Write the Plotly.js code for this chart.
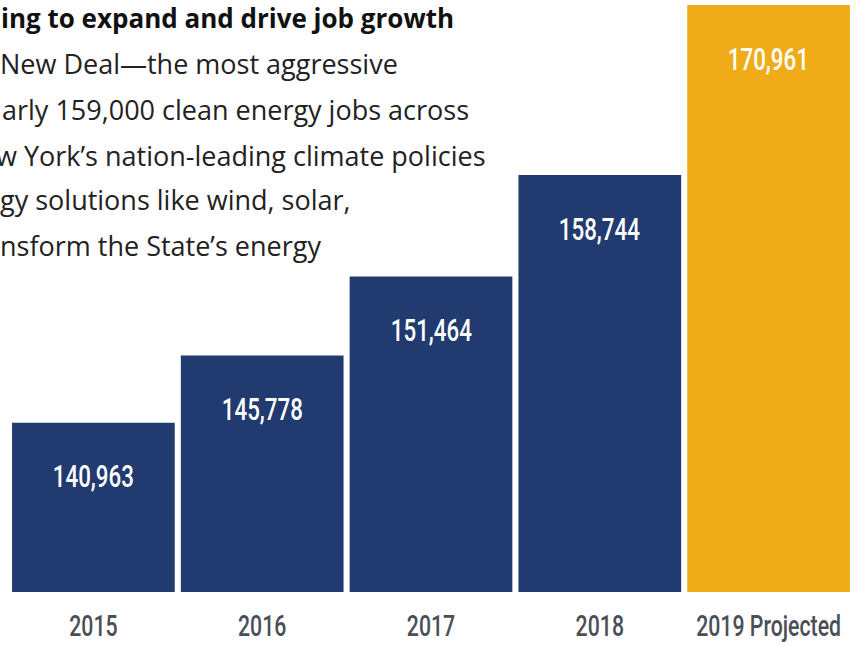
<!DOCTYPE html>
<html>
<head>
<meta charset="utf-8">
<script src="https://cdn.plot.ly/plotly-3.0.1.min.js"></script>
<style>
html,body{margin:0;padding:0;background:#fff;}
#chart{width:857px;height:645px;}
.xtick { transform-box: fill-box; transform-origin: center; transform: scaleX(0.71); }
.annotation.cond { transform-box: fill-box; transform-origin: center; transform: scaleX(0.72); }
</style>
</head>
<body>
<div id="chart"></div>
<script>
// Data
const years = ["2015", "2016", "2017", "2018", "2019 Projected"];
const jobs = [140963, 145778, 151464, 158744, 170961];
const barColors = ["#213a70", "#213a70", "#213a70", "#213a70", "#efac18"];
const headline = "ing to expand and drive job growth";
const bodyLines = [
  "New Deal\u2014the most aggressive",
  "arly 159,000 clean energy jobs across",
  "w York\u2019s nation-leading climate policies",
  "gy solutions like wind, solar,",
  "nsform the State\u2019s energy"
];

const W = 857, H = 645;
const M = {l: 9, r: 4, t: 5, b: 53};
const plotH = H - M.t - M.b;
const pyToPaper = py => (H - M.b - py) / plotH;
const idx = years.map((_, i) => i);

const condensed = "Roboto, Liberation Sans, sans-serif";
const bodyFont = "Open Sans, Lato, sans-serif";

const annotations = [];
// value labels inside bars
idx.forEach(i => {
  annotations.push({
    x: i, y: jobs[i], xref: "x", yref: "y",
    text: jobs[i].toLocaleString("en-US"),
    showarrow: false, yanchor: "middle", yshift: -54,
    font: {family: condensed, size: 31, color: "#ffffff", weight: 500}
  });
});
// paragraph text fragment
annotations.push({
  xref: "paper", yref: "paper", x: 0, xshift: -10, xanchor: "left",
  y: pyToPaper(18), yanchor: "middle",
  text: "<b>" + headline + "</b>", showarrow: false,
  font: {family: bodyFont, size: 26, color: "#111111"}
});
const lineY = [64, 109, 155, 199, 245];
const lineShift = [-11, -9, -15, -11, -11];
bodyLines.forEach((t, i) => {
  annotations.push({
    xref: "paper", yref: "paper", x: 0, xshift: lineShift[i], xanchor: "left",
    y: pyToPaper(lineY[i]), yanchor: "middle",
    text: t, showarrow: false,
    font: {family: bodyFont, size: 27, color: "#222222"}
  });
});

const trace = {
  type: "bar",
  x: idx,
  y: jobs,
  marker: {color: barColors, line: {width: 0}},
  hoverinfo: "skip"
};

const layout = {
  width: W, height: H,
  margin: M,
  paper_bgcolor: "#ffffff",
  plot_bgcolor: "#ffffff",
  bargap: 0.036,
  showlegend: false,
  xaxis: {
    range: [-0.5, 4.5],
    tickmode: "array", tickvals: idx, ticktext: years,
    showgrid: false, zeroline: false, showline: false,
    ticks: "", ticklabelstandoff: 13, ticklabeloverflow: "allow",
    tickfont: {family: condensed, size: 30, color: "#4a4f57", weight: 500}
  },
  yaxis: {
    range: [128800, 170961],
    visible: false, showgrid: false, zeroline: false, fixedrange: true
  },
  annotations: annotations
};

Plotly.newPlot("chart", [trace], layout, {displayModeBar: false, staticPlot: true}).then(gd => {
  gd.querySelectorAll(".annotation").forEach((a, k) => { if (k < years.length) a.classList.add("cond"); });
});
</script>
</body>
</html>
